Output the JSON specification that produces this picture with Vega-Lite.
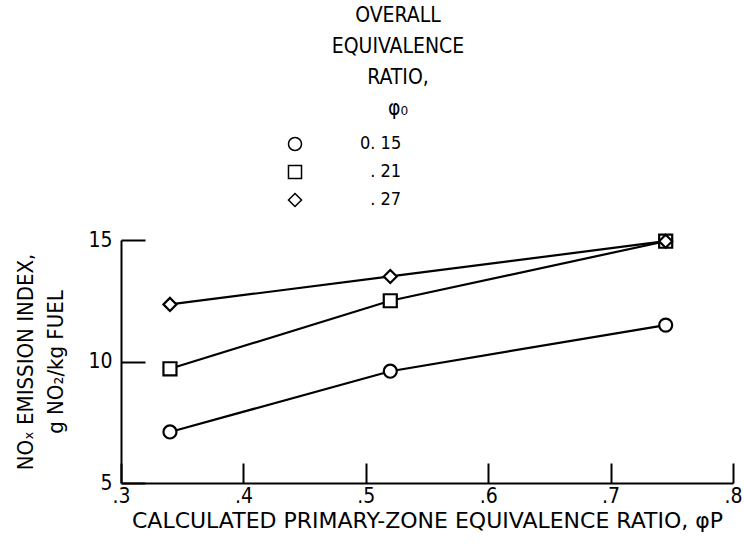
{
  "$schema": "https://vega.github.io/schema/vega-lite/v6.json",
  "width": 612,
  "height": 243,
  "autosize": {"type": "none"},
  "padding": {"left": 121, "top": 240, "right": 11, "bottom": 67},
  "background": "white",
  "config": {
    "view": {"stroke": null},
    "font": "DejaVu Sans Condensed, Roboto, sans-serif",
    "axis": {
      "domainColor": "black",
      "domainWidth": 2,
      "tickColor": "black",
      "tickWidth": 2,
      "grid": false,
      "labelColor": "black",
      "titleColor": "black",
      "labelFont": "DejaVu Sans Condensed, sans-serif",
      "titleFont": "DejaVu Sans Condensed, sans-serif",
      "titleFontWeight": "normal",
      "labelFontSize": 21,
      "titleFontSize": 22
    },
    "legend": {
      "labelFont": "DejaVu Sans Condensed, sans-serif",
      "titleFont": "DejaVu Sans Condensed, sans-serif"
    }
  },
  "data": {
    "values": [
      {"phi_p": 0.34, "ei": 7.1, "phi0": "0.15"},
      {"phi_p": 0.52, "ei": 9.6, "phi0": "0.15"},
      {"phi_p": 0.745, "ei": 11.5, "phi0": "0.15"},
      {"phi_p": 0.34, "ei": 9.7, "phi0": "0.21"},
      {"phi_p": 0.52, "ei": 12.5, "phi0": "0.21"},
      {"phi_p": 0.745, "ei": 14.95, "phi0": "0.21"},
      {"phi_p": 0.34, "ei": 12.35, "phi0": "0.27"},
      {"phi_p": 0.52, "ei": 13.5, "phi0": "0.27"},
      {"phi_p": 0.745, "ei": 14.95, "phi0": "0.27"}
    ]
  },
  "encoding": {
    "x": {
      "field": "phi_p",
      "type": "quantitative",
      "scale": {"domain": [0.3, 0.8], "nice": false, "zero": false},
      "axis": {
        "values": [0.3, 0.4, 0.5, 0.6, 0.7, 0.8],
        "tickSize": -20,
        "labelExpr": "replace(format(datum.value, '.1f'), '0.', '.')",
        "labelPadding": 22,
        "labelFlush": false,
        "title": "CALCULATED PRIMARY-ZONE EQUIVALENCE RATIO, φP",
        "titleFont": "DejaVu Sans, sans-serif",
        "titleFontSize": 22,
        "titlePadding": 4
      }
    },
    "y": {
      "field": "ei",
      "type": "quantitative",
      "scale": {"domain": [5, 15], "nice": false, "zero": false},
      "axis": {
        "values": [5, 10, 15],
        "tickSize": -24,
        "labelPadding": 33,
        "labelFlush": false,
        "title": ["NOₓ EMISSION INDEX,", "g NO₂/kg FUEL"],
        "titlePadding": 20,
        "titleLineHeight": 30
      }
    }
  },
  "layer": [
    {
      "mark": {"type": "line", "color": "black", "strokeWidth": 2.2},
      "encoding": {"detail": {"field": "phi0"}}
    },
    {
      "mark": {"type": "point", "filled": false, "color": "black", "fill": "white", "fillOpacity": 1, "strokeWidth": 2.2, "opacity": 1, "size": 170},
      "encoding": {
        "shape": {
          "field": "phi0",
          "type": "nominal",
          "scale": {"domain": ["0.15", "0.21", "0.27"], "range": ["circle", "square", "diamond"]},
          "legend": {
            "orient": "none",
            "legendX": 103,
            "legendY": -235,
            "title": ["\u200b\u00a0\u00a0\u00a0\u00a0\u00a0\u00a0\u00a0\u00a0\u00a0\u00a0\u00a0\u00a0\u00a0\u00a0\u00a0\u00a0\u00a0\u00a0OVERALL", "\u200b\u00a0\u00a0\u00a0\u00a0\u00a0\u00a0\u00a0\u00a0\u00a0\u00a0\u00a0\u00a0\u00a0\u00a0\u00a0\u00a0\u00a0\u00a0EQUIVALENCE", "\u200b\u00a0\u00a0\u00a0\u00a0\u00a0\u00a0\u00a0\u00a0\u00a0\u00a0\u00a0\u00a0\u00a0\u00a0\u00a0\u00a0\u00a0\u00a0RATIO,", "\u200b\u00a0\u00a0\u00a0\u00a0\u00a0\u00a0\u00a0\u00a0\u00a0\u00a0\u00a0\u00a0\u00a0\u00a0\u00a0\u00a0\u00a0\u00a0φ₀"],
            "titleFontSize": 21,
            "titleFontWeight": "normal",
            "titleColor": "black",
            "titleAlign": "center",
            "titleAnchor": "middle",
            "titleLineHeight": 31,
            "titlePadding": 16,
            "titleLimit": 500,
            "labelFontSize": 18,
            "labelColor": "black",
            "labelOffset": 56,
            "rowPadding": 8,
            "symbolSize": 170,
            "labelExpr": "datum.value == '0.15' ? '0. 15' : datum.value == '0.21' ? '\u200b\u00a0\u00a0. 21' : '\u200b\u00a0\u00a0. 27'",
            "encode": {
              "symbols": {
                "update": {
                  "fill": {"value": "white"},
                  "stroke": {"value": "black"},
                  "strokeWidth": {"value": 2.2},
                  "opacity": {"value": 1},
                  "fillOpacity": {"value": 1},
                  "strokeOpacity": {"value": 1}
                }
              }
            }
          }
        }
      }
    }
  ]
}
